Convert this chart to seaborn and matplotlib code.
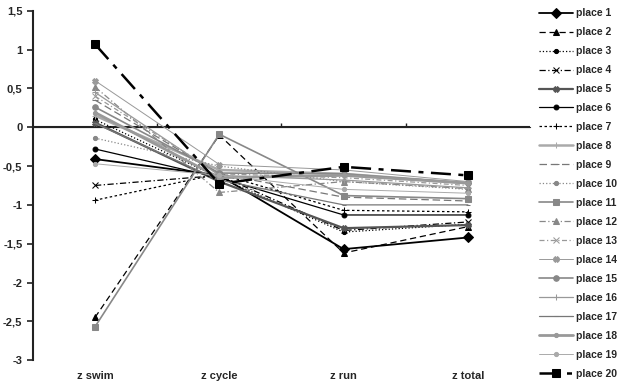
import numpy as np
import pandas as pd
import seaborn as sns
import matplotlib.pyplot as plt
from matplotlib.ticker import FuncFormatter

sns.set_style("white")
plt.rcParams['font.family'] = ['Liberation Sans', 'DejaVu Sans']

# DATA
stages = ["z swim", "z cycle", "z run", "z total"]
places = ["place %d" % i for i in range(1, 21)]

p1 = [-0.41, -0.62, -1.57, -1.42]
p2 = [-2.45, -0.10, -1.62, -1.28]
p3 = [0.10, -0.65, -1.35, -1.25]
p4 = [-0.75, -0.62, -1.33, -1.22]
p5 = [0.06, -0.70, -1.30, -1.26]
p6 = [-0.28, -0.65, -1.13, -1.13]
p7 = [-0.94, -0.60, -1.07, -1.09]
p8 = [0.15, -0.55, -0.60, -0.72]
p9 = [0.35, -0.60, -0.90, -0.95]
p10 = [-0.14, -0.50, -0.70, -0.80]
p11 = [-2.57, -0.09, -0.88, -0.92]
p12 = [0.52, -0.84, -0.70, -0.79]
p13 = [0.40, -0.60, -0.65, -0.75]
p14 = [0.60, -0.48, -0.55, -0.70]
p15 = [0.26, -0.59, -0.60, -0.72]
p16 = [0.45, -0.62, -0.68, -0.78]
p17 = [0.05, -0.68, -1.00, -1.00]
p18 = [0.19, -0.65, -0.62, -0.72]
p19 = [-0.47, -0.62, -0.80, -0.85]
p20 = [1.07, -0.73, -0.51, -0.62]
values = [p1, p2, p3, p4, p5, p6, p7, p8, p9, p10,
          p11, p12, p13, p14, p15, p16, p17, p18, p19, p20]

# style per series: color, linestyle, marker, linewidth, markersize
styles = [
    ("black", "-", "D", 1.3, 5),
    ("black", (0, (5, 3)), "^", 0.9, 4),
    ("black", ":", "o", 0.9, 3),
    ("black", (0, (5, 2, 1, 2)), "x", 0.9, 4),
    ("#555555", "-", "X", 1.6, 4),
    ("black", "-", "o", 0.9, 3.5),
    ("black", (0, (2, 2)), "+", 0.9, 5),
    ("#aaaaaa", "-", "+", 1.8, 4),
    ("#777777", (0, (6, 3)), "_", 0.9, 4),
    ("#888888", ":", "o", 0.9, 3),
    ("#888888", "-", "s", 1.2, 4),
    ("#888888", (0, (5, 2, 1, 2)), "^", 0.9, 4),
    ("#999999", (0, (4, 2, 1, 2)), "x", 0.9, 4),
    ("#999999", "-", "X", 0.7, 4),
    ("#888888", "-", "o", 1.2, 4),
    ("#999999", "-", "+", 0.9, 4),
    ("#777777", "-", "_", 0.9, 3),
    ("#999999", "-", "o", 2.0, 3),
    ("#aaaaaa", "-", "o", 0.7, 3),
    ("black", (0, (8, 3, 2, 3)), "s", 1.8, 6),
]

fig, ax = plt.subplots(figsize=(6.2, 3.86), dpi=100)
fig.subplots_adjust(left=0.053, right=0.855, top=0.972, bottom=0.067)

ax.axhline(0, color="#222222", lw=1.5, zorder=1)

for name, vals, (c, ls, m, lw, ms) in zip(places, values, styles):
    d = pd.DataFrame({"stage": stages, "z": vals})
    sns.lineplot(data=d, x="stage", y="z", ax=ax, color=c, linestyle=ls,
                 marker=m, markersize=ms, linewidth=lw, label=name,
                 markeredgecolor=c, sort=False)

ax.set_ylim(-3, 1.5)
ax.set_xlim(-0.5, 3.5)
ax.set_yticks(np.arange(-3, 1.51, 0.5))
ax.yaxis.set_major_formatter(FuncFormatter(lambda v, p: ("%g" % v).replace(".", ",")))
ax.set_xlabel("")
ax.set_ylabel("")

for s in ["top", "right", "bottom"]:
    ax.spines[s].set_visible(False)
ax.spines["left"].set_color("#222222")
ax.spines["left"].set_linewidth(1.5)
ax.tick_params(axis="y", left=True, length=4, width=1.2, color="#222222",
               labelsize=8)
ax.tick_params(axis="x", bottom=False, length=0, labelsize=8, pad=8)
for t in ax.get_xticklabels() + ax.get_yticklabels():
    t.set_fontweight("bold")

sec = ax.secondary_xaxis(2 / 3)
sec.set_xticks([0.5, 1.5, 2.5])
sec.set_xticklabels([])
sec.tick_params(axis="x", direction="out", length=3, width=1, color="#222222")
sec.spines["bottom"].set_visible(False)

leg = ax.legend(loc="upper left", bbox_to_anchor=(1.01, 1.019), frameon=False,
                fontsize=7.5, handlelength=3.2, labelspacing=0.86,
                handletextpad=0.3, borderaxespad=0)
for t in leg.get_texts():
    t.set_fontweight("bold")

fig.savefig("out.png", dpi=100)
